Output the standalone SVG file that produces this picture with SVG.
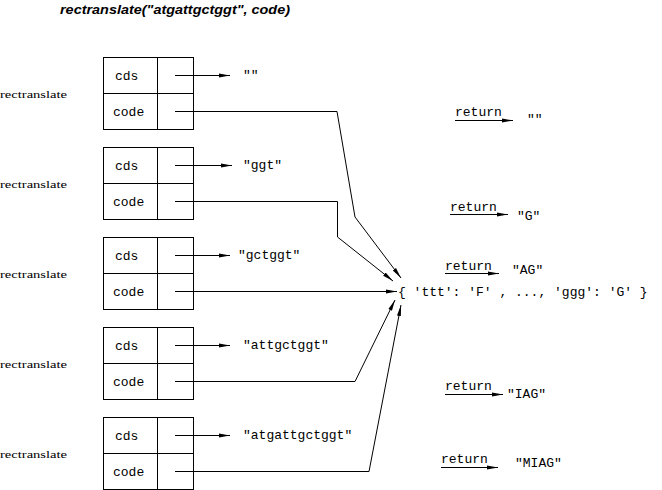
<svg xmlns="http://www.w3.org/2000/svg" width="662" height="490" viewBox="0 0 662 490">
<defs>
<marker id="ah" markerWidth="12" markerHeight="6" refX="11" refY="3" orient="auto" markerUnits="userSpaceOnUse">
<path d="M0,1 L11,3 L0,5 Z" fill="#000"/>
</marker>
<style>
.box{fill:#fff;stroke:#000;stroke-width:1}
.ln{fill:none;stroke:#000;stroke-width:1}
.mono{font-family:"Liberation Mono","Courier New",monospace;font-size:13px;fill:#000}
.lab{font-family:"Liberation Serif","Times New Roman",serif;font-size:11px;fill:#000}
.title{font-family:"Liberation Sans",Arial,sans-serif;font-size:12px;font-weight:bold;font-style:italic;fill:#000}
</style>
</defs>
<rect width="662" height="490" fill="#fff"/>
<text class="title" x="60" y="14" textLength="230" lengthAdjust="spacingAndGlyphs">rectranslate("atgattgctggt", code)</text>

<g id="frame1">
<text class="lab" x="0" y="98" textLength="67" lengthAdjust="spacingAndGlyphs">rectranslate</text>
<rect class="box" x="103.5" y="57.5" width="90" height="72"/>
<line class="ln" x1="103.5" y1="93.5" x2="193.5" y2="93.5"/>
<line class="ln" x1="157.5" y1="57.5" x2="157.5" y2="129.5"/>
<text class="mono" x="115" y="80">cds</text>
<text class="mono" x="113" y="116">code</text>
</g>
<g id="frame2">
<text class="lab" x="0" y="188" textLength="67" lengthAdjust="spacingAndGlyphs">rectranslate</text>
<rect class="box" x="103.5" y="147.5" width="90" height="72"/>
<line class="ln" x1="103.5" y1="183.5" x2="193.5" y2="183.5"/>
<line class="ln" x1="157.5" y1="147.5" x2="157.5" y2="219.5"/>
<text class="mono" x="115" y="170">cds</text>
<text class="mono" x="113" y="206">code</text>
</g>
<g id="frame3">
<text class="lab" x="0" y="278" textLength="67" lengthAdjust="spacingAndGlyphs">rectranslate</text>
<rect class="box" x="103.5" y="237.5" width="90" height="72"/>
<line class="ln" x1="103.5" y1="273.5" x2="193.5" y2="273.5"/>
<line class="ln" x1="157.5" y1="237.5" x2="157.5" y2="309.5"/>
<text class="mono" x="115" y="260">cds</text>
<text class="mono" x="113" y="296">code</text>
</g>
<g id="frame4">
<text class="lab" x="0" y="368" textLength="67" lengthAdjust="spacingAndGlyphs">rectranslate</text>
<rect class="box" x="103.5" y="327.5" width="90" height="72"/>
<line class="ln" x1="103.5" y1="363.5" x2="193.5" y2="363.5"/>
<line class="ln" x1="157.5" y1="327.5" x2="157.5" y2="399.5"/>
<text class="mono" x="115" y="350">cds</text>
<text class="mono" x="113" y="386">code</text>
</g>
<g id="frame5">
<text class="lab" x="0" y="458" textLength="67" lengthAdjust="spacingAndGlyphs">rectranslate</text>
<rect class="box" x="103.5" y="417.5" width="90" height="72"/>
<line class="ln" x1="103.5" y1="453.5" x2="193.5" y2="453.5"/>
<line class="ln" x1="157.5" y1="417.5" x2="157.5" y2="489.5"/>
<text class="mono" x="115" y="440">cds</text>
<text class="mono" x="113" y="476">code</text>
</g>

<g id="values">
<text class="mono" x="243" y="79">""</text>
<text class="mono" x="243" y="169">"ggt"</text>
<text class="mono" x="238" y="259">"gctggt"</text>
<text class="mono" x="243" y="349">"attgctggt"</text>
<text class="mono" x="243" y="439">"atgattgctggt"</text>
</g>

<g id="dict">
<text class="mono" x="398" y="296">{ 'ttt': 'F' , ..., 'ggg': 'G' }</text>
</g>

<g id="returns">
<text class="mono" x="455" y="116">return</text>
<text class="mono" x="527" y="123">""</text>
<text class="mono" x="450" y="211">return</text>
<text class="mono" x="517" y="220">"G"</text>
<text class="mono" x="445" y="270">return</text>
<text class="mono" x="512" y="274">"AG"</text>
<text class="mono" x="445" y="390">return</text>
<text class="mono" x="507" y="398">"IAG"</text>
<text class="mono" x="441" y="463">return</text>
<text class="mono" x="515" y="467">"MIAG"</text>
</g>

<g id="connectors">
<line class="ln" x1="175" y1="75.5" x2="230" y2="75.5" marker-end="url(#ah)"/>
<line class="ln" x1="175" y1="165.5" x2="232" y2="165.5" marker-end="url(#ah)"/>
<line class="ln" x1="175" y1="255.5" x2="230" y2="255.5" marker-end="url(#ah)"/>
<line class="ln" x1="175" y1="345.5" x2="230" y2="345.5" marker-end="url(#ah)"/>
<line class="ln" x1="175" y1="435.5" x2="230" y2="435.5" marker-end="url(#ah)"/>

<polyline class="ln" points="175,111.5 337,111.5 355,217 401,278" marker-end="url(#ah)"/>
<polyline class="ln" points="175,201.5 337.5,201.5 337.5,237 393,281" marker-end="url(#ah)"/>
<line class="ln" x1="175" y1="291.5" x2="397" y2="291.5" marker-end="url(#ah)"/>
<polyline class="ln" points="175,381.5 355,381.5 395,300" marker-end="url(#ah)"/>
<polyline class="ln" points="175,471.5 369,471.5 401,305" marker-end="url(#ah)"/>

<line class="ln" x1="455" y1="120.5" x2="513" y2="120.5" marker-end="url(#ah)"/>
<line class="ln" x1="450" y1="214.5" x2="508" y2="214.5" marker-end="url(#ah)"/>
<line class="ln" x1="445" y1="273.5" x2="499" y2="273.5" marker-end="url(#ah)"/>
<line class="ln" x1="445" y1="394.5" x2="503" y2="394.5" marker-end="url(#ah)"/>
<line class="ln" x1="441" y1="467.5" x2="498" y2="467.5" marker-end="url(#ah)"/>
</g>
</svg>
